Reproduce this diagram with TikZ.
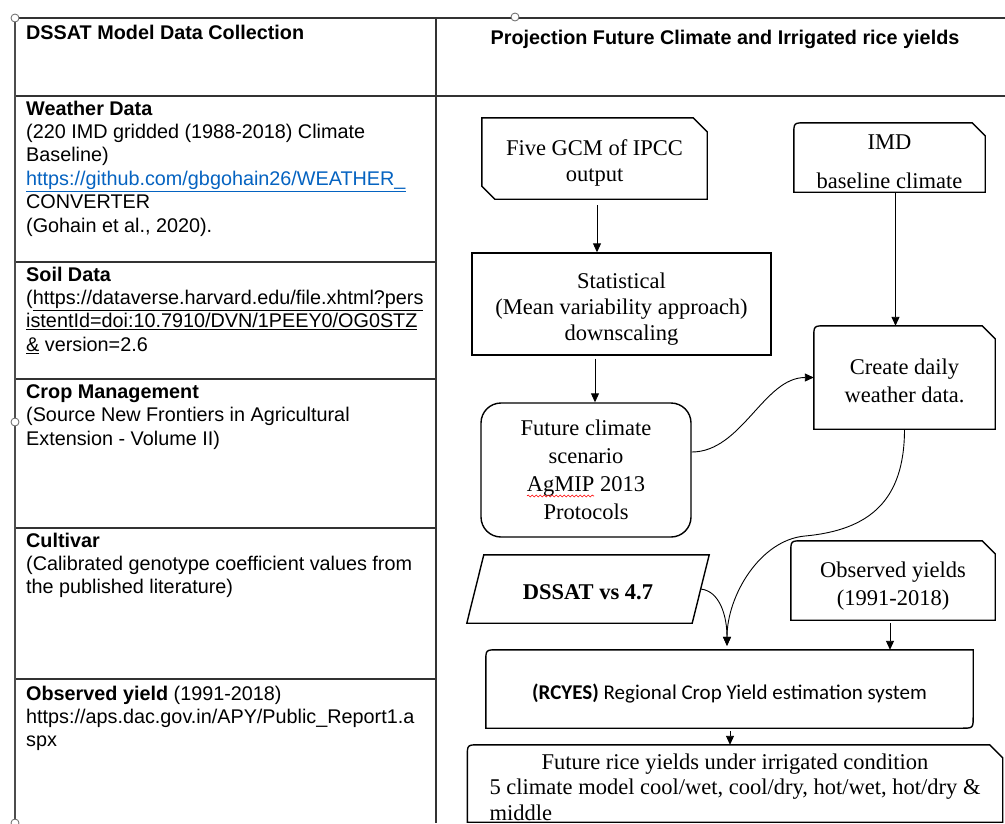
\documentclass[tikz,border=0pt]{standalone}
\usepackage{fontspec}
\setmainfont{Liberation Serif}
\newfontfamily\arialf{Liberation Sans}
\newfontfamily\calibrif{Carlito}
\usetikzlibrary{arrows.meta,calc,decorations.pathmorphing}
\definecolor{linkblue}{RGB}{5,99,193}
\tikzset{
  grid/.style={draw=black!80, line width=1.5pt},
  lefttext/.style={anchor=north west, inner sep=0pt, align=left, font=\arialf\fontsize{19.8}{23.4}\selectfont},
  box/.style={draw=none, inner sep=0pt, align=center, font=\fontsize{22.5}{28}\selectfont},
  outline/.style={draw=black, line width=1.4pt},
  arr/.style={draw=black, line width=0.9pt, -{Triangle[length=9pt,width=8pt]}},
  handle/.style={draw=black!60, fill=white, line width=0.8pt},
}
% invisible strut that lowers the text of a box a little
\newcommand\lowr[1]{\rule{0pt}{#1}}
\newcommand\rsnipbox[1]{%
  \draw[outline] (#1.south west) -- ([yshift=-12pt]#1.north west) .. controls (#1.north west) .. ([xshift=12pt]#1.north west)
    -- ([xshift=-13pt]#1.north east) -- ([yshift=-13pt]#1.north east) -- (#1.south east) -- cycle;}
\begin{document}
\begin{tikzpicture}[x=1pt,y=-1pt]
\useasboundingbox[fill=white] (0,0) rectangle (1005,823);

% ---------- table ----------
\draw[grid] (15,18) -- (1005,18);
\draw[grid] (15,96) -- (1005,96);
\draw[grid] (15,262) -- (436,262);
\draw[grid] (15,379) -- (436,379);
\draw[grid] (15,528) -- (436,528);
\draw[grid] (15,679) -- (436,679);
\draw[grid, draw=black!70, line width=1.8pt] (15,18) -- (15,821);
\draw[grid] (436,18) -- (436,823);

% ---------- left column ----------
\node[lefttext] (hleft) at (26,24.5) {\textbf{DSSAT Model Data Collection}};
\node[lefttext] (weather) at (26,100.5) {\textbf{Weather Data}\\
(220 IMD gridded (1988-2018) Climate\\
Baseline)\\
{\color{linkblue}\underline{https://github.com/gbgohain26/WEATHER\_}}\\
CONVERTER\\
(Gohain et al., 2020).};
\node[lefttext] (soil) at (26,266.5) {\textbf{Soil Data}\\
(\underline{https://dataverse.harvard.edu/file.xhtml?pers}\\
\underline{istentId=doi:10.7910/DVN/1PEEY0/OG0STZ}\\
\underline{\&} version=2.6};
\node[lefttext] (cropm) at (26,384.5) {\textbf{Crop Management}\\
(Source New Frontiers in Agricultural\\
Extension - Volume II)};
\node[lefttext] (cult) at (26,532.5) {\textbf{Cultivar}\\
(Calibrated genotype coefficient values from\\
the published literature)};
\node[lefttext] (obsl) at (26,685.5) {\textbf{Observed yield} (1991-2018)\\
https://aps.dac.gov.in/APY/Public\_Report1.a\\
spx};

% ---------- right column header ----------
\node[anchor=base, inner sep=0pt, font=\arialf\bfseries\fontsize{19.8}{23.4}\selectfont] (hright) at (725,44)
  {Projection Future Climate and Irrigated rice yields};

% ---------- flowchart nodes ----------
\node[box, minimum width=225pt, minimum height=81pt, font=\fontsize{22.5}{26}\selectfont] (gcm) at (594.5,158.5)
  {\lowr{25.5pt}Five GCM of IPCC\\output};
\draw[outline] (gcm.north west) -- ([xshift=-14pt]gcm.north east) -- ([yshift=-14pt]gcm.north east)
  -- (gcm.south east) -- ([xshift=13pt]gcm.south west) -- ([yshift=13pt]gcm.south west) -- cycle;

\node[box, minimum width=191pt, minimum height=69pt] (imd) at (889.5,157.5) {\lowr{22.5pt}IMD\\[11pt]baseline climate};
\rsnipbox{imd}

\node[box, draw=black, line width=1.4pt, minimum width=299pt, minimum height=102pt, font=\fontsize{22.5}{26}\selectfont] (stat) at (621.5,304)
  {\lowr{25.5pt}Statistical\\(Mean variability approach)\\downscaling};

\node[box, draw=black, line width=1.4pt, rounded corners=20pt, minimum width=210pt, minimum height=134pt] (fut) at (586,470)
  {Future climate\\scenario\\AgMIP 2013\\Protocols};
\draw[red, line width=0.6pt, decorate, decoration={snake, segment length=4pt, amplitude=1pt}]
  ($(fut.center)+(-59,26)$) -- ($(fut.center)+(8,26)$);

\node[box, minimum width=181pt, minimum height=103pt] (create) at (904.5,377.5) {\lowr{21.5pt}Create daily\\weather data.};
\rsnipbox{create}

\node[box, minimum width=225pt, minimum height=68pt] (dssat) at (588,589) {\lowr{21.5pt}\textbf{DSSAT vs 4.7}};
\draw[outline] ([xshift=8.5pt]dssat.north west) -- ([xshift=8.5pt]dssat.north east)
  -- ([xshift=-8.5pt]dssat.south east) -- ([xshift=-8.5pt]dssat.south west) -- cycle;

\node[box, minimum width=204pt, minimum height=79pt] (obs) at (893,580.5) {\lowr{27.5pt}Observed yields\\(1991-2018)};
\rsnipbox{obs}

\node[box, minimum width=487pt, minimum height=78pt, font=\calibrif\fontsize{21}{25}\selectfont] (rcyes) at (729.5,689)
  {\lowr{24pt}\textbf{(RCYES)} Regional Crop Yield estimation system};
\draw[outline] (rcyes.south west) -- ([yshift=-12pt]rcyes.north west) .. controls (rcyes.north west) .. ([xshift=12pt]rcyes.north west)
  -- (rcyes.north east) -- ([yshift=12pt]rcyes.south east) .. controls (rcyes.south east) .. ([xshift=-12pt]rcyes.south east) -- cycle;

\node[box, minimum width=535pt, minimum height=77pt] (rice) at (735,783.5) {};
\rsnipbox{rice}
\node[inner sep=0pt, font=\fontsize{22.5}{25.5}\selectfont] (ricetext) at (735,789.5)
  {\begin{tabular}{@{}l@{}}\multicolumn{1}{@{}c@{}}{Future rice yields under irrigated condition}\\
   5 climate model cool/wet, cool/dry, hot/wet, hot/dry \&\\ middle\end{tabular}};

% ---------- connectors ----------
\coordinate (merge) at ($(rcyes.north)+(-2.5,-4)$);
\coordinate (a1) at ($(gcm.south)+(2.5,6)$);
\coordinate (a2) at ($(stat.south)+(-26.5,3)$);
\coordinate (a3) at ($(imd.south)+(6,0)$);
\coordinate (a4) at ($(obs.south)+(-3,3)$);
\coordinate (a5) at ($(rcyes.south)+(0.5,3)$);
\draw[arr] (a1) -- (a1 |- stat.north);
\draw[arr] (a2) -- (a2 |- fut.north);
\draw[arr] (a3) -- (a3 |- create.north);
\draw[arr] ($(fut.east)+(0,-18)$) .. controls +(50,0) and +(-50,0) .. (create.west);
\draw[arr] (create.south) .. controls +(0,71) and (870,530) .. (805,536) .. controls (760,540) and ($(merge)+(0,-50)$) .. (merge);
\draw[arr] (dssat.east) .. controls +(19,2) and ($(merge)+(0,-30)$) .. (merge);
\draw[arr] (a4) -- (a4 |- rcyes.north);
\draw[arr] (a5) -- (a5 |- rice.north);

% ---------- selection handles ----------
\draw[handle] (15,18) circle[radius=4];
\draw[handle] (515,17) circle[radius=4];
\draw[handle] (15,422) circle[radius=4];
\draw[handle] (15,823) circle[radius=4];
\end{tikzpicture}
\end{document}
